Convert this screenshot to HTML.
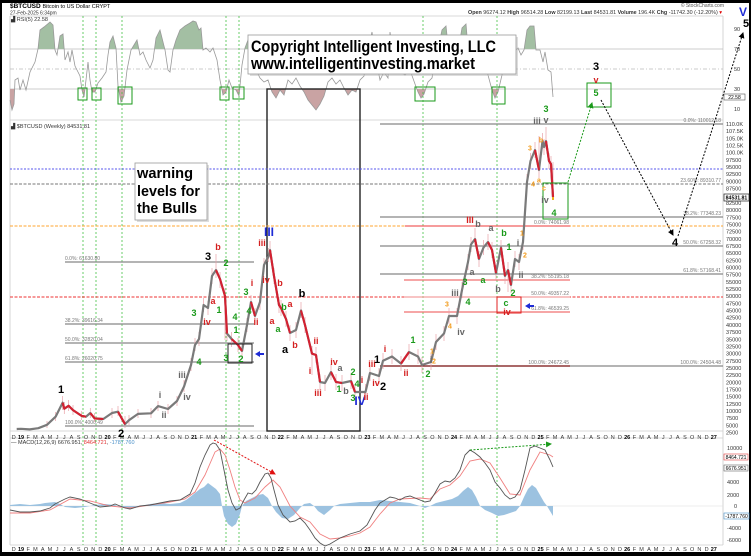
<!DOCTYPE html>
<html><head><meta charset="utf-8">
<style>
html,body{margin:0;padding:0;background:#000;}
svg{display:block;font-family:"Liberation Sans",Arial,sans-serif;}
.ax{font-size:5.5px;fill:#333;}
.fib{font-size:5px;fill:#777;}
.wl{font-weight:bold;text-anchor:middle;dominant-baseline:central;}
.k{fill:#000;font-size:11px;}
.g{fill:#1a9a1a;font-size:9px;}
.r{fill:#d42020;font-size:9px;}
.o{fill:#f29a1a;font-size:7px;}
.gy{fill:#666;font-size:9px;}
.b{fill:#1e2bd6;font-size:12px;}
</style></head>
<body>
<svg width="751" height="556" viewBox="0 0 751 556" xmlns="http://www.w3.org/2000/svg">
<defs>
<clipPath id="cg"><rect x="0" y="0" width="751" height="49"/></clipPath>
<clipPath id="cr"><rect x="0" y="89" width="751" height="40"/></clipPath>
<marker id="ak" markerWidth="6" markerHeight="6" refX="5" refY="3" orient="auto"><path d="M0,0 L6,3 L0,6 z" fill="#000"/></marker>
<marker id="ag" markerWidth="6" markerHeight="6" refX="5" refY="3" orient="auto"><path d="M0,0 L6,3 L0,6 z" fill="#1a9a1a"/></marker>
<marker id="ar" markerWidth="6" markerHeight="6" refX="5" refY="3" orient="auto"><path d="M0,0 L6,3 L0,6 z" fill="#e01010"/></marker>
</defs>
<rect x="0" y="0" width="751" height="556" fill="#000"/>
<rect x="2" y="3" width="747" height="549" fill="#fff"/>

<!-- header -->
<text x="10" y="8" font-size="6.5" font-weight="bold" fill="#000">$BTCUSD <tspan font-weight="normal" font-size="5.5">Bitcoin to US Dollar  CRYPT</tspan></text>
<text x="10" y="14.5" font-size="5" fill="#333">27-Feb-2025 6:34pm</text>
<text x="724" y="7" font-size="5" fill="#555" text-anchor="end">© StockCharts.com</text>
<text x="468" y="14" font-size="5.3" fill="#333" textLength="254" lengthAdjust="spacingAndGlyphs"><tspan font-weight="bold">Open</tspan> 96274.12 <tspan font-weight="bold">High</tspan> 96514.28 <tspan font-weight="bold">Low</tspan> 82199.13 <tspan font-weight="bold">Last</tspan> 84531.81 <tspan font-weight="bold">Volume</tspan> 196.4K <tspan font-weight="bold">Chg</tspan> -11742.30 (-12.20%) <tspan fill="#d00">▾</tspan></text>

<!-- panel frames -->
<g stroke="#ccc" stroke-width="0.8" fill="none">
<line x1="10" y1="16" x2="723" y2="16"/>
<line x1="10" y1="120" x2="723" y2="120"/>
<line x1="10" y1="431" x2="723" y2="431"/>
<line x1="10" y1="438" x2="723" y2="438"/>
<line x1="10" y1="545" x2="723" y2="545"/>
<line x1="10" y1="16" x2="10" y2="545"/>
<line x1="723" y1="16" x2="723" y2="545"/>
</g>

<!-- RSI panel -->
<text x="11" y="21" font-size="5.5" fill="#333">▟ RSI(5) 22.58</text>
<line x1="10" y1="49" x2="723" y2="49" stroke="#bbb" stroke-width="0.8"/>
<line x1="10" y1="69" x2="723" y2="69" stroke="#bbb" stroke-width="0.8" stroke-dasharray="4 2 1 2"/>
<line x1="10" y1="89" x2="723" y2="89" stroke="#bbb" stroke-width="0.8"/>
<g class="ax"><text x="734" y="31">90</text><text x="734" y="51">70</text><text x="734" y="71">50</text><text x="734" y="91">30</text><text x="734" y="111">10</text></g>
<rect x="724" y="94" width="21" height="6" fill="#fff" stroke="#555" stroke-width="0.6"/>
<text x="734.5" y="99" font-size="5" text-anchor="middle" fill="#000">22.58</text>

<g id="rsi">
<polygon clip-path="url(#cg)" fill="#a3bfa3" points="10,100 12,110 14,104 15,80 18,78 20,90 23,80 26,90 30,72 35,62 38,49 40,30 44,27 50,22 53,25 55,50 57,55 60,36 63,34 65,60 68,52 70,62 72,50 75,66 78,72 80,76 82,90 84,97 86,80 88,62 90,80 92,92 95,92 98,83 102,78 106,72 108,55 110,42 113,36 116,48 118,86 121,102 124,96 127,70 131,50 134,45 137,40 140,55 143,52 146,60 150,68 153,60 156,38 160,30 165,50 168,70 170,72 173,50 176,40 180,30 185,26 190,23 193,21 196,22 199,30 201,28 203,50 206,48 210,52 213,48 217,60 220,80 223,95 226,92 229,80 232,88 236,90 239,96 242,65 245,48 248,40 252,60 256,70 260,78 264,82 268,80 272,92 276,98 280,90 284,95 288,80 292,84 296,78 300,86 304,92 308,100 312,105 316,110 320,104 324,96 328,82 332,78 336,84 340,80 344,88 348,95 352,90 356,92 360,80 364,76 368,50 372,32 376,60 380,80 384,72 388,78 390,32 394,60 400,72 405,75 410,70 415,84 418,92 421,98 424,94 428,82 432,78 436,55 438,49 442,30 446,26 448,45 452,52 456,62 459,46 462,28 466,24 468,48 472,40 476,60 480,55 484,65 488,75 492,90 495,98 498,92 502,75 506,62 510,55 514,52 518,48 521,55 524,50 527,30 530,26 534,26 536,50 540,50 543,62 545,52 548,70 551,72 553,97 553,49 10,49"/>
<polygon clip-path="url(#cr)" fill="#c9a3a3" points="10,100 12,110 14,104 15,80 18,78 20,90 23,80 26,90 30,72 35,62 38,49 40,30 44,27 50,22 53,25 55,50 57,55 60,36 63,34 65,60 68,52 70,62 72,50 75,66 78,72 80,76 82,90 84,97 86,80 88,62 90,80 92,92 95,92 98,83 102,78 106,72 108,55 110,42 113,36 116,48 118,86 121,102 124,96 127,70 131,50 134,45 137,40 140,55 143,52 146,60 150,68 153,60 156,38 160,30 165,50 168,70 170,72 173,50 176,40 180,30 185,26 190,23 193,21 196,22 199,30 201,28 203,50 206,48 210,52 213,48 217,60 220,80 223,95 226,92 229,80 232,88 236,90 239,96 242,65 245,48 248,40 252,60 256,70 260,78 264,82 268,80 272,92 276,98 280,90 284,95 288,80 292,84 296,78 300,86 304,92 308,100 312,105 316,110 320,104 324,96 328,82 332,78 336,84 340,80 344,88 348,95 352,90 356,92 360,80 364,76 368,50 372,32 376,60 380,80 384,72 388,78 390,32 394,60 400,72 405,75 410,70 415,84 418,92 421,98 424,94 428,82 432,78 436,55 438,49 442,30 446,26 448,45 452,52 456,62 459,46 462,28 466,24 468,48 472,40 476,60 480,55 484,65 488,75 492,90 495,98 498,92 502,75 506,62 510,55 514,52 518,48 521,55 524,50 527,30 530,26 534,26 536,50 540,50 543,62 545,52 548,70 551,72 553,97 553,89 10,89"/>
<polyline fill="none" stroke="#999" stroke-width="0.8" points="10,100 12,110 14,104 15,80 18,78 20,90 23,80 26,90 30,72 35,62 38,49 40,30 44,27 50,22 53,25 55,50 57,55 60,36 63,34 65,60 68,52 70,62 72,50 75,66 78,72 80,76 82,90 84,97 86,80 88,62 90,80 92,92 95,92 98,83 102,78 106,72 108,55 110,42 113,36 116,48 118,86 121,102 124,96 127,70 131,50 134,45 137,40 140,55 143,52 146,60 150,68 153,60 156,38 160,30 165,50 168,70 170,72 173,50 176,40 180,30 185,26 190,23 193,21 196,22 199,30 201,28 203,50 206,48 210,52 213,48 217,60 220,80 223,95 226,92 229,80 232,88 236,90 239,96 242,65 245,48 248,40 252,60 256,70 260,78 264,82 268,80 272,92 276,98 280,90 284,95 288,80 292,84 296,78 300,86 304,92 308,100 312,105 316,110 320,104 324,96 328,82 332,78 336,84 340,80 344,88 348,95 352,90 356,92 360,80 364,76 368,50 372,32 376,60 380,80 384,72 388,78 390,32 394,60 400,72 405,75 410,70 415,84 418,92 421,98 424,94 428,82 432,78 436,55 438,49 442,30 446,26 448,45 452,52 456,62 459,46 462,28 466,24 468,48 472,40 476,60 480,55 484,65 488,75 492,90 495,98 498,92 502,75 506,62 510,55 514,52 518,48 521,55 524,50 527,30 530,26 534,26 536,50 540,50 543,62 545,52 548,70 551,72 553,97"/>
</g>

<!-- green verticals -->
<g stroke="#44c044" stroke-width="0.8" stroke-dasharray="2 2">
<line x1="83" y1="16" x2="83" y2="545"/><line x1="96" y1="16" x2="96" y2="545"/><line x1="122" y1="16" x2="122" y2="545"/>
<line x1="226" y1="16" x2="226" y2="545"/><line x1="239" y1="16" x2="239" y2="545"/><line x1="423" y1="16" x2="423" y2="545"/><line x1="497" y1="16" x2="497" y2="545"/>
</g>
<!-- RSI green boxes -->
<g fill="none" stroke="#1a9a1a" stroke-width="1">
<rect x="78" y="88" width="9" height="12"/><rect x="92" y="88" width="9" height="12"/><rect x="118" y="87" width="14" height="17"/>
<rect x="220" y="87" width="9" height="13"/><rect x="233" y="87" width="11" height="12"/><rect x="415" y="87" width="20" height="14"/><rect x="492" y="87" width="13" height="17"/>
</g>

<!-- black rectangle -->
<rect x="267" y="89" width="93" height="342" fill="none" stroke="#222" stroke-width="1.4"/>

<!-- copyright box -->
<rect x="250" y="37" width="268" height="39" fill="#bbb" opacity="0.5"/>
<rect x="248" y="35" width="268" height="39" fill="#fff" stroke="#999" stroke-width="0.8"/>
<text x="251" y="52" font-size="17" font-weight="bold" fill="#000" textLength="245" lengthAdjust="spacingAndGlyphs">Copyright Intelligent Investing, LLC</text>
<text x="251" y="69" font-size="17" font-weight="bold" fill="#000" textLength="224" lengthAdjust="spacingAndGlyphs">www.intelligentinvesting.market</text>

<!-- price panel label -->
<text x="11" y="128" font-size="5.5" fill="#333">▟ $BTCUSD (Weekly) 84531.81</text>

<!-- full-width level lines -->
<line x1="10" y1="169" x2="723" y2="169" stroke="#5555ee" stroke-width="0.9" stroke-dasharray="2 1.5"/>
<line x1="10" y1="184" x2="723" y2="184" stroke="#777" stroke-width="0.9" stroke-dasharray="3 1.5"/>
<line x1="10" y1="226" x2="723" y2="226" stroke="#ffa630" stroke-width="0.9" stroke-dasharray="3 1.5"/>
<line x1="10" y1="297" x2="723" y2="297" stroke="#ee3333" stroke-width="0.9" stroke-dasharray="3 1.5"/>

<!-- right fib set -->
<g stroke="#888" stroke-width="1.3">
<line x1="380" y1="124" x2="723" y2="124"/>
<line x1="380" y1="217" x2="723" y2="217"/>
<line x1="380" y1="246" x2="723" y2="246"/>
<line x1="380" y1="274" x2="723" y2="274"/>
<line x1="380" y1="366" x2="723" y2="366"/>
</g>
<g class="fib" text-anchor="end">
<text x="721" y="122">0.0%: 110012.18</text><text x="721" y="182">23.60%: 89310.77</text><text x="721" y="215">38.2%: 77348.23</text>
<text x="721" y="244">50.0%: 67258.32</text><text x="721" y="272">61.8%: 57168.41</text><text x="721" y="364">100.0%: 24504.48</text>
</g>
<!-- middle fib set -->
<g stroke-width="1.2">
<line x1="405" y1="226" x2="570" y2="226" stroke="#f06060"/>
<line x1="404" y1="280" x2="570" y2="280" stroke="#f07070"/>
<line x1="404" y1="297" x2="570" y2="297" stroke="#f4a0a0"/>
<line x1="404" y1="312" x2="570" y2="312" stroke="#f07070"/>
<line x1="380" y1="366" x2="570" y2="366" stroke="#8a2020"/>
</g>
<g class="fib" text-anchor="end">
<text x="569" y="224">0.0%: 74061.98</text><text x="569" y="278">38.2%: 55195.18</text><text x="569" y="295">50.0%: 49357.22</text>
<text x="569" y="310">61.8%: 46539.25</text><text x="569" y="364">100.0%: 24672.45</text>
</g>
<!-- left fib set -->
<g stroke="#888" stroke-width="1.2">
<line x1="65" y1="262" x2="254" y2="262"/><line x1="65" y1="324" x2="254" y2="324"/><line x1="65" y1="343" x2="254" y2="343"/>
<line x1="65" y1="362" x2="254" y2="362"/><line x1="65" y1="426" x2="254" y2="426"/>
</g>
<g class="fib">
<text x="65" y="260">0.0%: 61630.80</text><text x="65" y="322">38.2%: 39616.34</text><text x="65" y="341">50.0%: 32820.04</text>
<text x="65" y="360">61.8%: 26020.75</text><text x="65" y="424">100.0%: 4000.49</text>
</g>

<!-- warning box -->
<rect x="137" y="165" width="72" height="57" fill="#bbb" opacity="0.5"/>
<rect x="135" y="163" width="72" height="57" fill="#fff" stroke="#999" stroke-width="0.8"/>
<g font-size="15" font-weight="bold" fill="#000">
<text x="137" y="178" textLength="56" lengthAdjust="spacingAndGlyphs">warning</text>
<text x="137" y="196" textLength="63" lengthAdjust="spacingAndGlyphs">levels for</text>
<text x="137" y="213" textLength="60" lengthAdjust="spacingAndGlyphs">the Bulls</text>
</g>

<!-- price series -->
<g transform="translate(3,0)" fill="none" stroke-linejoin="round">
<path stroke="#e9a0a8" stroke-width="0.7" d="M44,421V428 M52.6,412V421 M59.6,396V410 M61.3,402V414 M65.6,400V411 M70,405V415 M78.6,411V420 M87.3,408V418 M91.6,413V422 M109,408V418 M115,406V416 M122,416V428 M126,415V425 M135,409V418 M148,408V418 M155,401V411 M165,404V414 M174,396V406 M181,380V392 M188,358V371 M192,338V351 M196,332V346 M200.6,298V312 M205,301V315 M209,268V284 M213,254V278 M217,272V288 M222,288V340 M224,326V341 M228.6,332V347 M235,338V352 M239,344V358 M244,318V332 M248,295V310 M252,308V324 M257,295V310 M261,258V272 M265.6,248V262 M267,241V258 M271,268V284 M276,297V313 M278,300V316 M283,311V327 M287,325V341 M293,322V338 M298,302V318 M302,317V333 M309,346V375 M313,347V363 M317,374V390 M322,375V391 M328,364V380 M333,374V390 M339,375V391 M348,373V389 M352,384V400 M362.5,384V400 M367,365V381 M376,368V384 M380,353V369 M389,349V364 M398,356V371 M406,344V360 M415,349V364 M419,357V373 M428,354V370 M433,334V350 M441,326V341 M446,308V324 M454,308V324 M459,282V298 M465,254V270 M468,237V252 M472,228V247 M476,251V267 M480.5,240V255 M485,234V250 M489,242V258 M493,265V281 M498,240V255 M502,268V284 M505,262V292 M508,277V293 M512,251V267 M516,254V270 M520,234V250 M524,174V190 M527.5,153V169 M532,142V158 M536,136V178 M539.5,133V149 M541,139V155 M543,127V149 M546,153V169 M548,156V172 M550,162V200"/>
<polyline stroke="#7a7a7a" stroke-width="2.2" points="13.7,429 18,428.8 26.7,429.4 35.3,428.2 44,424.8 52.6,416.7 59.6,402.7 61.3,408.7 65.6,405.8 70,410.1 78.6,415.9 83,416.7 87.3,413 91.6,418.4 100.3,419 109,413 115,411.7 122,424.2 126,420.2 135,413.9 148,413.3 155,406.1 165,409 174,401 181,386.6 188,365 192,345 196,339 200.6,305 205,308 209,276 213,270 217,279 222,296 224,333.5 228.6,339 235,345 239,351 244,325 248,302 252,316 257,302 261,265 265.6,256 267,250 271,276 276,305 278,308 283,319 287,333 293,330 298,310.5 302,325 309,353.6 313,355 317,382 322,383 328,372 333,382 339,383 348,381 352,392 362.5,392 367,373 376,376 380,360.8 389,356.5 398,363.6 406,352 415,356.5 419,365 428,362 433,342 441,333.5 446,316 454,316 459,290 465,262 468,244.5 472,239 476,259 480.5,247.5 485,242 489,250 493,273 498,247.5 502,276 505,270 508,285 512,259 516,262 520,242 524,182 527.5,161 532,150 536,170 539.5,141 541,147 543,141 546,161 548,164 550,197"/>
<g stroke="#d42030" stroke-width="2.1">
<polyline points="59.6,402.7 61.3,408.7 65.6,405.8 70,410.1 78.6,415.9 83,416.7"/>
<polyline points="87.3,413 91.6,418.4 100.3,419"/>
<polyline points="115,411.7 122,424.2"/>
<polyline points="213,270 217,279 222,296 224,333.5"/>
<polyline points="228.6,339 235,345 239,351"/>
<polyline points="248,302 252,316"/>
<polyline points="267,250 271,276 276,305 278,308 283,319 287,333"/>
<polyline points="298,310.5 302,325 309,353.6 313,355 317,382"/>
<polyline points="328,372 333,382 339,383"/>
<polyline points="348,381 352,392"/>
<polyline points="398,363.6 406,352"/>
<polyline points="472,239 476,259"/>
<polyline points="485,242 489,250 493,273"/>
<polyline points="498,247.5 502,276"/>
<polyline points="505,270 508,285"/>
<polyline points="532,150 536,170"/>
<polyline points="543,141 546,161 548,164 550,197"/>
</g>
<line x1="550" y1="197" x2="550" y2="200" stroke="#f0b020" stroke-width="2"/>
</g>

<!-- boxes / arrows in price panel -->
<rect x="228" y="344" width="24" height="19" fill="none" stroke="#222" stroke-width="1"/>
<rect x="497" y="297" width="24" height="16" fill="none" stroke="#e02020" stroke-width="1"/>
<rect x="543" y="183" width="25" height="36" fill="none" stroke="#1a9a1a" stroke-width="1"/>
<rect x="587" y="83" width="24" height="24" fill="none" stroke="#1a9a1a" stroke-width="1"/>
<path d="M255,354 L260,351 L260,353 L264,353 L264,355 L260,355 L260,357 z" fill="#1e2bd6"/>
<path d="M525,306 L530,303 L530,305 L534,305 L534,307 L530,307 L530,309 z" fill="#1e2bd6"/>
<line x1="568" y1="182" x2="592" y2="103" stroke="#1a9a1a" stroke-width="1" stroke-dasharray="2 1.5" marker-end="url(#ag)"/>
<line x1="601" y1="100" x2="673" y2="235" stroke="#000" stroke-width="1" stroke-dasharray="2 1.5" marker-end="url(#ak)"/>
<line x1="678" y1="236" x2="743" y2="33" stroke="#000" stroke-width="1" stroke-dasharray="2 1.5" marker-end="url(#ak)"/>

<!-- wave labels -->
<g class="wl">
<text class="k" x="61" y="390">1</text><text class="k" x="208" y="257">3</text>
<text class="gy" x="160" y="395">i</text><text class="gy" x="164" y="415">ii</text><text class="gy" x="182" y="375">iii</text><text class="gy" x="187" y="397">iv</text>
<text class="g" x="194" y="313">3</text><text class="g" x="199" y="362">4</text><text class="r" x="207" y="322">iv</text>
<text class="r" x="218" y="247">b</text><text class="r" x="213" y="301">a</text><text class="g" x="226" y="263">2</text><text class="g" x="219" y="310">1</text>
<text class="g" x="235" y="317">4</text><text class="g" x="236" y="330">1</text><text class="g" x="226" y="358">3</text><text class="g" x="241" y="359">2</text>
<text class="g" x="246" y="292">3</text><text class="g" x="249" y="311">4</text><text class="r" x="252" y="283">i</text><text class="r" x="256" y="322">ii</text>
<text class="r" x="262" y="243">iii</text><text class="r" x="266" y="280">iv</text><text class="b" x="269" y="232">III</text>
<text class="r" x="280" y="283">b</text><text class="r" x="272" y="321">a</text><text class="g" x="284" y="307">b</text><text class="r" x="290" y="304">a</text>
<text class="g" x="278" y="329">a</text><text class="k" x="302" y="294" font-size="10">b</text><text class="k" x="285" y="350" font-size="10">a</text><text class="r" x="295" y="345">b</text>
<text class="r" x="316" y="341">ii</text><text class="r" x="310" y="371">i</text><text class="r" x="318" y="393">iii</text><text class="r" x="334" y="362">iv</text>
<text class="gy" x="340" y="368">a</text><text class="g" x="339" y="389">1</text><text class="gy" x="346" y="391">b</text><text class="g" x="353" y="372">2</text>
<text class="g" x="357" y="384">4</text><text class="g" x="353" y="398">3</text><text class="b" x="360" y="401">IV</text>
<text class="r" x="362" y="380">i</text><text class="r" x="366" y="397">ii</text><text class="r" x="372" y="364">iii</text><text class="k" x="377" y="360">1</text>
<text class="r" x="376" y="383">iv</text><text class="k" x="383" y="387">2</text><text class="r" x="385" y="349">i</text><text class="r" x="406" y="373">ii</text>
<text class="g" x="413" y="340">1</text><text class="g" x="428" y="374">2</text><text class="gy" x="431" y="360">i</text><text class="o" x="432" y="352">1</text><text class="o" x="434" y="362">2</text>
<text class="o" x="447" y="305">3</text><text class="o" x="450" y="327">4</text><text class="gy" x="461" y="332">iv</text><text class="gy" x="455" y="293">iii</text>
<text class="g" x="468" y="302">4</text><text class="g" x="465" y="282">3</text><text class="gy" x="472" y="272">a</text><text class="g" x="483" y="280">a</text>
<text class="gy" x="498" y="289">b</text><text class="r" x="470" y="220" font-size="10">III</text><text class="gy" x="478" y="224">b</text><text class="gy" x="491" y="228">a</text>
<text class="g" x="504" y="233">b</text><text class="g" x="509" y="247">1</text><text class="gy" x="518" y="243">i</text><text class="o" x="522" y="234">1</text>
<text class="o" x="525" y="256">2</text><text class="gy" x="521" y="275">ii</text><text class="g" x="513" y="293">2</text><text class="g" x="506" y="303">c</text>
<text class="r" x="507" y="312">iv</text><text class="o" x="530" y="149">3</text><text class="o" x="541" y="141">b</text><text class="o" x="533" y="185">4</text>
<text class="o" x="539" y="181">a</text><text class="o" x="544" y="189">c</text><text class="gy" x="545" y="200">iv</text><text class="g" x="554" y="213">4</text>
<text class="gy" x="537" y="121">iii</text><text class="gy" x="546" y="120">v</text><text class="g" x="546" y="109">3</text>
<text class="k" x="596" y="67">3</text><text class="r" x="596" y="80">v</text><text class="g" x="596" y="93">5</text>
<text class="k" x="675" y="243">4</text>
<text class="b" x="743" y="12" font-size="13">V</text><text class="k" x="746" y="24">5</text>
</g>

<!-- price axis labels -->
<text class="ax" x="726" y="126"><tspan x="726" dy="0">110.0K</tspan><tspan x="726" dy="7.175">107.5K</tspan><tspan x="726" dy="7.175">105.0K</tspan><tspan x="726" dy="7.175">102.5K</tspan><tspan x="726" dy="7.175">100.0K</tspan><tspan x="726" dy="7.175">97500</tspan><tspan x="726" dy="7.175">95000</tspan><tspan x="726" dy="7.175">92500</tspan><tspan x="726" dy="7.175">90000</tspan><tspan x="726" dy="7.175">87500</tspan><tspan x="726" dy="7.175">85000</tspan><tspan x="726" dy="7.175">82500</tspan><tspan x="726" dy="7.175">80000</tspan><tspan x="726" dy="7.175">77500</tspan><tspan x="726" dy="7.175">75000</tspan><tspan x="726" dy="7.175">72500</tspan><tspan x="726" dy="7.175">70000</tspan><tspan x="726" dy="7.175">67500</tspan><tspan x="726" dy="7.175">65000</tspan><tspan x="726" dy="7.175">62500</tspan><tspan x="726" dy="7.175">60000</tspan><tspan x="726" dy="7.175">57500</tspan><tspan x="726" dy="7.175">55000</tspan><tspan x="726" dy="7.175">52500</tspan><tspan x="726" dy="7.175">50000</tspan><tspan x="726" dy="7.175">47500</tspan><tspan x="726" dy="7.175">45000</tspan><tspan x="726" dy="7.175">42500</tspan><tspan x="726" dy="7.175">40000</tspan><tspan x="726" dy="7.175">37500</tspan><tspan x="726" dy="7.175">35000</tspan><tspan x="726" dy="7.175">32500</tspan><tspan x="726" dy="7.175">30000</tspan><tspan x="726" dy="7.175">27500</tspan><tspan x="726" dy="7.175">25000</tspan><tspan x="726" dy="7.175">22500</tspan><tspan x="726" dy="7.175">20000</tspan><tspan x="726" dy="7.175">17500</tspan><tspan x="726" dy="7.175">15000</tspan><tspan x="726" dy="7.175">12500</tspan><tspan x="726" dy="7.175">10000</tspan><tspan x="726" dy="7.175">7500</tspan><tspan x="726" dy="7.175">5000</tspan><tspan x="726" dy="7.175">2500</tspan></text>
<rect x="724" y="194" width="25" height="7" fill="#fff" stroke="#222" stroke-width="0.7"/>
<text x="736.5" y="199.5" font-size="5.2" text-anchor="middle" font-weight="bold" fill="#000">84531.81</text>

<!-- date axes -->
<g class="ax" text-anchor="middle">
<text y="439" x="13.8 28.2 35.4 42.7 49.9 57.1 64.3 71.5 78.7 86.0 93.2 100.4 114.8 122.0 129.3 136.5 143.7 150.9 158.1 165.3 172.6 179.8 187.0 201.4 208.6 215.9 223.1 230.3 237.5 244.7 251.9 259.2 266.4 273.6 288.0 295.2 302.5 309.7 316.9 324.1 331.3 338.5 345.8 353.0 360.2 374.6 381.8 389.1 396.3 403.5 410.7 417.9 425.1 432.4 439.6 446.8 461.2 468.4 475.7 482.9 490.1 497.3 504.5 511.7 519.0 526.2 533.4 547.8 555.0 562.3 569.5 576.7 583.9 591.1 598.3 605.6 612.8 620.0 634.4 641.6 648.9 656.1 663.3 670.5 677.7 684.9 692.2 699.4 706.6">DFMAMJJASONDFMAMJJASONDFMAMJJASONDFMAMJJASONDFMAMJJASONDFMAMJJASONDFMAMJJASONDFMAMJJASOND</text>
<text y="551" x="13.8 28.2 35.4 42.7 49.9 57.1 64.3 71.5 78.7 86.0 93.2 100.4 114.8 122.0 129.3 136.5 143.7 150.9 158.1 165.3 172.6 179.8 187.0 201.4 208.6 215.9 223.1 230.3 237.5 244.7 251.9 259.2 266.4 273.6 288.0 295.2 302.5 309.7 316.9 324.1 331.3 338.5 345.8 353.0 360.2 374.6 381.8 389.1 396.3 403.5 410.7 417.9 425.1 432.4 439.6 446.8 461.2 468.4 475.7 482.9 490.1 497.3 504.5 511.7 519.0 526.2 533.4 547.8 555.0 562.3 569.5 576.7 583.9 591.1 598.3 605.6 612.8 620.0 634.4 641.6 648.9 656.1 663.3 670.5 677.7 684.9 692.2 699.4 706.6">DFMAMJJASONDFMAMJJASONDFMAMJJASONDFMAMJJASONDFMAMJJASONDFMAMJJASONDFMAMJJASONDFMAMJJASOND</text>
<g font-weight="bold" fill="#000">
<text x="21" y="439">19</text><text x="107.6" y="439">20</text><text x="194.2" y="439">21</text><text x="280.8" y="439">22</text><text x="367.4" y="439">23</text><text x="454" y="439">24</text><text x="540.6" y="439">25</text><text x="627.2" y="439">26</text><text x="713.8" y="439">27</text>
<text x="21" y="551">19</text><text x="107.6" y="551">20</text><text x="194.2" y="551">21</text><text x="280.8" y="551">22</text><text x="367.4" y="551">23</text><text x="454" y="551">24</text><text x="540.6" y="551">25</text><text x="627.2" y="551">26</text><text x="713.8" y="551">27</text>
</g>
</g>
<text class="wl k" x="121" y="434">2</text>

<!-- MACD panel -->
<text x="11" y="444" font-size="5.5" fill="#333">— MACD(12,26,9) 6676.951, <tspan fill="#e03030">8464.721</tspan>, <tspan fill="#4a90c8">-1787.760</tspan></text>
<line x1="10" y1="506" x2="723" y2="506" stroke="#ddd" stroke-width="0.6"/>
<polygon fill="#9cc2e0" points="10,506 10,505 20,504 30,505 40,504 45,503 55,502 60,504 65,507 75,508 85,507 95,505 105,504 115,505 120,507 130,508 140,506 150,504 160,503 170,504 180,503 186,500 190,497 195,493 200,489 204,487 208,483 212,486 216,489 220,494 222,506 224,516 228,524 232,527 236,524 240,514 242,506 246,501 252,498 258,495 263,494 268,498 272,506 276,512 282,518 288,519 294,515 300,508 304,504 310,503 314,506 318,511 324,515 330,510 334,506 340,504 350,503 360,502 370,502 380,500 390,501 400,502 410,503 420,506 425,508 430,506 436,503 444,501 452,499 458,496 463,491 468,487 472,490 476,497 480,506 485,510 492,513 498,516 504,515 510,513 516,511 520,506 524,497 528,489 532,485 536,488 540,495 544,502 547,506 550,511 553,516 553,506"/>
<polyline fill="none" stroke="#f08080" stroke-width="0.9" points="10,513 30,513 50,510 70,499 90,501 110,506 130,508 150,505 170,502 185,499 195,492 205,475 215,452 220,449 225,455 230,470 235,487 240,500 245,503 255,498 265,487 273,480 280,487 290,506 300,517 310,522 320,534 330,539 340,538 350,536 360,533 370,527 380,514 390,503 400,499 420,498 430,499 440,489 450,485 460,476 470,461 480,459 490,463 500,478 510,494 520,495 530,470 540,452 550,455 553,457"/>
<polyline fill="none" stroke="#555" stroke-width="0.9" points="10,510 20,512 30,512 40,511 50,508 55,504 65,499 70,497 80,499 90,503 100,507 110,506 115,504 120,506 125,508 130,509 140,506 150,505 160,503 170,501 180,500 190,494 195,483 200,467 205,455 210,445 213,443 216,444 220,450 224,470 228,490 232,503 236,510 240,508 244,500 248,493 252,494 256,490 260,482 265,474 268,473 271,478 274,490 278,505 283,515 290,522 295,521 300,518 305,523 310,530 315,538 320,543 325,546 330,544 340,538 350,534 360,531 367,525 375,510 380,503 385,500 390,497 395,498 400,500 405,497 410,496 420,500 425,502 430,501 435,493 440,484 445,481 450,482 455,478 460,470 465,455 470,450 475,453 480,457 485,463 490,470 495,482 500,488 505,495 510,499 515,497 520,490 525,470 530,448 535,446 540,448 545,450 550,460 553,467"/>
<line x1="214" y1="440" x2="275" y2="474" stroke="#e01010" stroke-width="1" stroke-dasharray="2 1.5" marker-end="url(#ar)"/>
<line x1="470" y1="450" x2="551" y2="444" stroke="#1a9a1a" stroke-width="1" stroke-dasharray="2 1.5" marker-end="url(#ag)"/>
<g class="ax">
<text x="727" y="450">10000</text><text x="727" y="484">4000</text><text x="727" y="497">2000</text><text x="734" y="508">0</text>
<text x="727" y="530">-4000</text><text x="727" y="542">-6000</text>
</g>
<rect x="724" y="454" width="24" height="6" fill="#fff" stroke="#e04040" stroke-width="0.6"/>
<text x="736" y="459" font-size="5" text-anchor="middle" fill="#000">8464.721</text>
<rect x="724" y="465" width="24" height="6" fill="#fff" stroke="#666" stroke-width="0.6"/>
<text x="736" y="470" font-size="5" text-anchor="middle" fill="#000">6676.951</text>
<rect x="724" y="513" width="25" height="6" fill="#fff" stroke="#4a90c8" stroke-width="0.6"/>
<text x="736.5" y="518" font-size="5" text-anchor="middle" fill="#000">-1787.760</text>
</svg>
</body></html>
